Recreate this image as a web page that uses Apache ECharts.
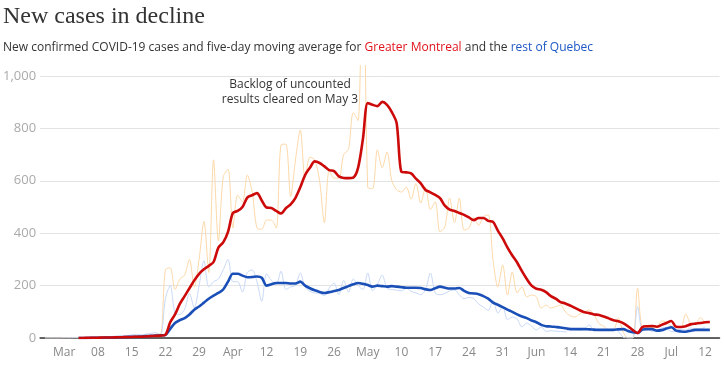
<!DOCTYPE html>
<html>
<head>
<meta charset="utf-8">
<script src="https://cdn.jsdelivr.net/npm/echarts@6/dist/echarts.min.js"></script>
<style>
html,body{margin:0;padding:0;background:#fff;}
#chart{width:724px;height:367px;}
</style>
</head>
<body>
<div id="chart"></div>
<script>
// Axis: daily categories from 2020-02-25 to 2020-07-15
const axisStart = '2020-02-25';
const axisDays = 142;
const tickLabels = ['Mar','08','15','22','29','Apr','12','19','26','May','10','17','24','31','Jun','14','21','28','Jul','12'];

// Daily new cases, Greater Montreal (starts 2020-02-26)
const montrealDailyStart = '2020-02-26';
const montrealDaily = [
  0,0,0,0,1,0,1,1,2,1,2,3,2,4,5,4,6,8,5,10,8,12,9,14,
  15,260,268,185,225,240,300,195,300,445,
  250,680,370,615,645,420,545,520,622,560,
  420,415,450,450,420,737,740,540,680,794,
  610,690,680,600,440,640,610,610,700,720,
  860,830,1650,575,570,718,650,710,600,565,
  557,576,530,590,515,575,490,520,405,424,
  534,440,534,412,420,460,430,462,470,298,
  195,279,164,252,172,195,157,164,157,114,
  126,114,120,126,100,85,80,92,100,107,
  88,55,45,30,31,76,23,0,0,190,
  42,42,40,40,65,60,45,42,40,92,
  57,55,78,58
];

// Daily new cases, rest of Quebec (starts 2020-02-26)
const restDailyStart = '2020-02-26';
const restDaily = [
  0,0,0,0,0,1,1,1,2,1,3,3,5,4,6,8,10,9,12,14,12,15,18,20,
  12,150,200,95,90,110,170,115,200,295,
  195,215,225,260,300,215,215,175,250,260,
  215,140,245,220,205,255,185,195,200,248,
  195,178,172,170,162,190,210,165,220,175,
  225,200,185,248,180,205,240,190,185,183,
  180,190,178,172,165,185,248,172,165,170,
  180,183,165,150,155,150,130,118,105,145,
  95,118,70,80,72,42,57,45,31,42,
  25,28,26,25,23,38,32,30,35,50,
  24,30,30,32,34,25,3,0,0,120,
  30,38,25,28,38,40,24,28,33,30,
  38,35,35,42
];

// Five-day moving average, Greater Montreal (starts 2020-03-04)
const montrealAvgStart = '2020-03-04';
const montrealAvg = [
  0,0,1,1,1,2,2,2,3,3,4,4,5,5,6,7,8,9,
  12,60,90,130,160,190,220,245,262,275,
  290,345,365,405,477,485,500,536,545,553,
  525,498,496,485,475,495,510,535,575,622,
  650,674,668,655,641,637,617,611,610,612,
  650,760,897,890,885,901,890,862,820,634,
  632,628,608,590,565,556,546,534,505,490,
  485,477,470,460,450,458,458,447,443,410,
  380,345,315,288,255,225,200,188,184,175,
  160,150,137,132,124,115,106,98,95,90,
  88,82,75,68,64,57,45,30,19,42,
  45,46,43,50,57,65,43,42,45,52,
  55,57,60,61
];

// Five-day moving average, rest of Quebec (starts 2020-03-04)
const restAvgStart = '2020-03-04';
const restAvg = [
  0,0,0,1,1,1,2,2,3,3,4,5,5,6,7,8,9,10,
  12,35,57,68,76,90,108,120,135,150,
  162,172,185,215,245,245,238,232,233,235,
  230,200,205,210,210,210,208,208,215,200,
  190,182,176,172,175,179,183,191,198,205,
  210,207,202,196,200,198,196,198,196,194,
  192,192,192,191,186,183,190,196,192,189,
  189,191,180,172,170,167,160,150,135,127,
  118,108,100,90,82,76,67,60,50,45,
  44,42,40,37,34,34,34,34,33,32,
  31,31,31,31,33,34,27,22,19,32,
  34,34,28,30,36,41,28,25,24,28,
  31,31,31,31
];

function addDays(s, n) {
  const d = new Date(s + 'T00:00:00Z');
  d.setUTCDate(d.getUTCDate() + n);
  return d.toISOString().slice(0, 10);
}
const categories = [];
for (let i = 0; i < axisDays; i++) categories.push(addDays(axisStart, i));
function align(start, values) {
  const off = categories.indexOf(start);
  const out = new Array(categories.length).fill(null);
  values.forEach((v, i) => { if (off + i < out.length) out[off + i] = v; });
  return out;
}
const firstTick = categories.indexOf('2020-03-01');

const chart = echarts.init(document.getElementById('chart'), null, {renderer: 'canvas'});
const sans = '"Open Sans", sans-serif';
chart.setOption({
  animation: false,
  backgroundColor: '#fff',
  title: {
    left: 3, top: 5, padding: 0,
    text: 'New cases in decline',
    textStyle: {fontFamily: '"Liberation Serif", serif', fontSize: 24, fontWeight: 'normal', color: '#333'},
    subtext: '{a|New confirmed COVID-19 cases and five-day moving average for }{r|Greater Montreal}{a| and the }{b|rest of Quebec}',
    itemGap: 13,
    subtextStyle: {
      fontFamily: sans, fontSize: 12, color: '#333',
      rich: {
        a: {fontFamily: sans, fontSize: 12, color: '#333'},
        r: {fontFamily: sans, fontSize: 12, color: '#e0121b'},
        b: {fontFamily: sans, fontSize: 12, color: '#1d58c4'}
      }
    }
  },
  grid: {left: 39.9, right: 4.5, top: 65.5, bottom: 29, containLabel: false},
  xAxis: {
    type: 'category',
    data: categories,
    boundaryGap: false,
    z: 0,
    axisLine: {show: true, lineStyle: {color: '#333', width: 1.5}},
    axisTick: {show: false},
    splitLine: {show: false},
    axisLabel: {
      color: '#888', fontFamily: sans, fontSize: 12, margin: 9,
      interval: function (index) { return index >= firstTick && (index - firstTick) % 7 === 0 && (index - firstTick) / 7 < tickLabels.length; },
      formatter: function (value, index) { return tickLabels[(index - firstTick) / 7] || ''; }
    }
  },
  yAxis: {
    type: 'value',
    min: 0, max: 1040, interval: 200,
    axisLine: {show: false},
    axisTick: {show: false},
    axisLabel: {color: '#aaa', fontFamily: sans, fontSize: 13, margin: 4, showMaxLabel: false},
    splitLine: {show: true, showMaxLine: false, lineStyle: {color: '#e3e3e3', width: 1}}
  },
  graphic: [{
    type: 'text',
    x: 290, y: 77,
    style: {
      text: 'Backlog of uncounted\nresults cleared on May 3',
      align: 'center',
      verticalAlign: 'top',
      font: '12px "Open Sans", sans-serif',
      fill: '#333',
      lineHeight: 15
    }
  }],
  series: [
    {name: 'Greater Montreal daily', type: 'line', data: align(montrealDailyStart, montrealDaily),
      showSymbol: false, smooth: 0.3, lineStyle: {color: '#fcd8a8', width: 1}, itemStyle: {color: '#fcd8a8'}, z: 2},
    {name: 'Rest of Quebec daily', type: 'line', data: align(restDailyStart, restDaily),
      showSymbol: false, smooth: 0.3, lineStyle: {color: '#c8d8f6', width: 1}, itemStyle: {color: '#c8d8f6'}, z: 3},
    {name: 'Rest of Quebec average', type: 'line', data: align(restAvgStart, restAvg),
      showSymbol: false, smooth: 0.3, lineStyle: {color: '#1a4fb8', width: 2.6}, itemStyle: {color: '#1a4fb8'}, z: 4},
    {name: 'Greater Montreal average', type: 'line', data: align(montrealAvgStart, montrealAvg),
      showSymbol: false, smooth: 0.3, lineStyle: {color: '#cc0a0a', width: 2.6}, itemStyle: {color: '#cc0a0a'}, z: 5}
  ]
});
</script>
</body>
</html>
